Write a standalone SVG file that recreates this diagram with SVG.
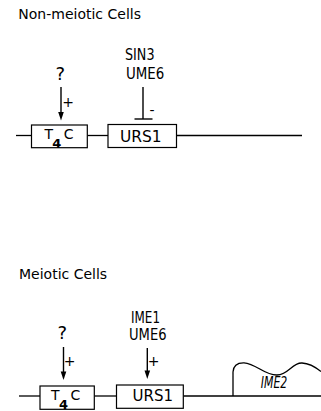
<svg xmlns="http://www.w3.org/2000/svg" width="321" height="411" viewBox="0 0 321 411">
  <style>
    text { font-family: "DejaVu Sans", "Liberation Sans", sans-serif; fill: #000; }
    .title { font-size: 14px; }
    .lbl { font-size: 15px; }
    .q { font-size: 18px; }
    .sign { font-size: 14px; text-anchor: middle; }
    .box { fill: #fff; stroke: #000; stroke-width: 1.2; }
    .dna { stroke: #000; stroke-width: 1.3; fill: none; }
    .con { stroke: #000; stroke-width: 1.4; fill: none; }
    .head { fill: #000; }
  </style>

  <rect width="321" height="411" fill="#fff"/>

  <!-- connectors: DNA lines and regulatory arrows -->
  <g id="connectors">
    <line class="dna" x1="16" y1="135.5" x2="31.5" y2="135.5"/>
    <line class="dna" x1="87.3" y1="135.5" x2="108" y2="135.5"/>
    <line class="dna" x1="176.5" y1="135.5" x2="302" y2="135.5"/>
    <line class="con" x1="61" y1="87" x2="61" y2="113"/>
    <polygon class="head" points="58.2,112 63.8,112 61,120.5"/>
    <line class="con" x1="143" y1="87" x2="143" y2="119"/>
    <line class="con" x1="134.5" y1="119" x2="152.5" y2="119"/>

    <line class="dna" x1="19" y1="396" x2="40" y2="396"/>
    <line class="dna" x1="94.3" y1="396" x2="116.5" y2="396"/>
    <line class="dna" x1="183.3" y1="396" x2="321" y2="396"/>
    <line class="con" x1="63.5" y1="347" x2="63.5" y2="372"/>
    <polygon class="head" points="60.7,371.5 66.3,371.5 63.5,380"/>
    <line class="con" x1="147.3" y1="348" x2="147.3" y2="371"/>
    <polygon class="head" points="144.5,370.5 150.1,370.5 147.3,379"/>
  </g>

  <!-- Non-meiotic cells -->
  <g id="title-nonmeiotic">
    <text class="title" x="18.3" y="19.3">Non-meiotic Cells</text>
  </g>
  <g id="t4c-top">
    <rect class="box" x="31.5" y="125" width="55.8" height="22.7"/>
    <text font-size="14" x="44.5" y="139.3">T<tspan font-weight="bold" font-size="13" dx="-0.8" dy="8.5">4</tspan><tspan dx="2.5" dy="-8.5">C</tspan></text>
  </g>
  <g id="urs1-top">
    <rect class="box" x="108" y="124.5" width="68.5" height="23"/>
    <text class="lbl" x="120" y="141.7" textLength="41.7" lengthAdjust="spacingAndGlyphs">URS1</text>
  </g>
  <g id="unknown-top">
    <text class="q" x="55.5" y="80">?</text>
    <text class="sign" x="68" y="106.5">+</text>
  </g>
  <g id="sin3-ume6">
    <text class="lbl" x="125" y="60" textLength="29.5" lengthAdjust="spacingAndGlyphs">SIN3</text>
    <text class="lbl" x="126" y="79.3" textLength="38.3" lengthAdjust="spacingAndGlyphs">UME6</text>
    <text class="sign" x="152" y="114.5">-</text>
  </g>

  <!-- Meiotic cells -->
  <g id="title-meiotic">
    <text class="title" x="19" y="279.3">Meiotic Cells</text>
  </g>
  <g id="t4c-bottom">
    <rect class="box" x="40" y="386" width="54.3" height="23.3"/>
    <text font-size="14" x="51" y="400">T<tspan font-weight="bold" font-size="13" dx="-0.6" dy="9">4</tspan><tspan dx="2.5" dy="-9">C</tspan></text>
  </g>
  <g id="urs1-bottom">
    <rect class="box" x="116.5" y="385" width="66.8" height="23.3"/>
    <text class="lbl" x="132.5" y="401" textLength="40.5" lengthAdjust="spacingAndGlyphs">URS1</text>
  </g>
  <g id="unknown-bottom">
    <text class="q" x="57.5" y="338.5">?</text>
    <text class="sign" x="69.5" y="366">+</text>
  </g>
  <g id="ime1-ume6">
    <text class="lbl" x="131" y="322.7" textLength="29" lengthAdjust="spacingAndGlyphs">IME1</text>
    <text class="lbl" x="129" y="339.5" textLength="37.5" lengthAdjust="spacingAndGlyphs">UME6</text>
    <text class="sign" x="153.5" y="366.3">+</text>
  </g>
  <g id="ime2">
    <path class="dna" d="M233,396 L233,372 Q233.5,362.5 244,362.8 C256,363.5 265,375.5 277,375 C289,374.5 292,362.5 302,363 C310,363.5 316,367.5 321,371.5"/>
    <text class="lbl" x="260.7" y="388.3" font-size="14" font-style="italic" textLength="26.6" lengthAdjust="spacingAndGlyphs">IME2</text>
  </g>
</svg>
